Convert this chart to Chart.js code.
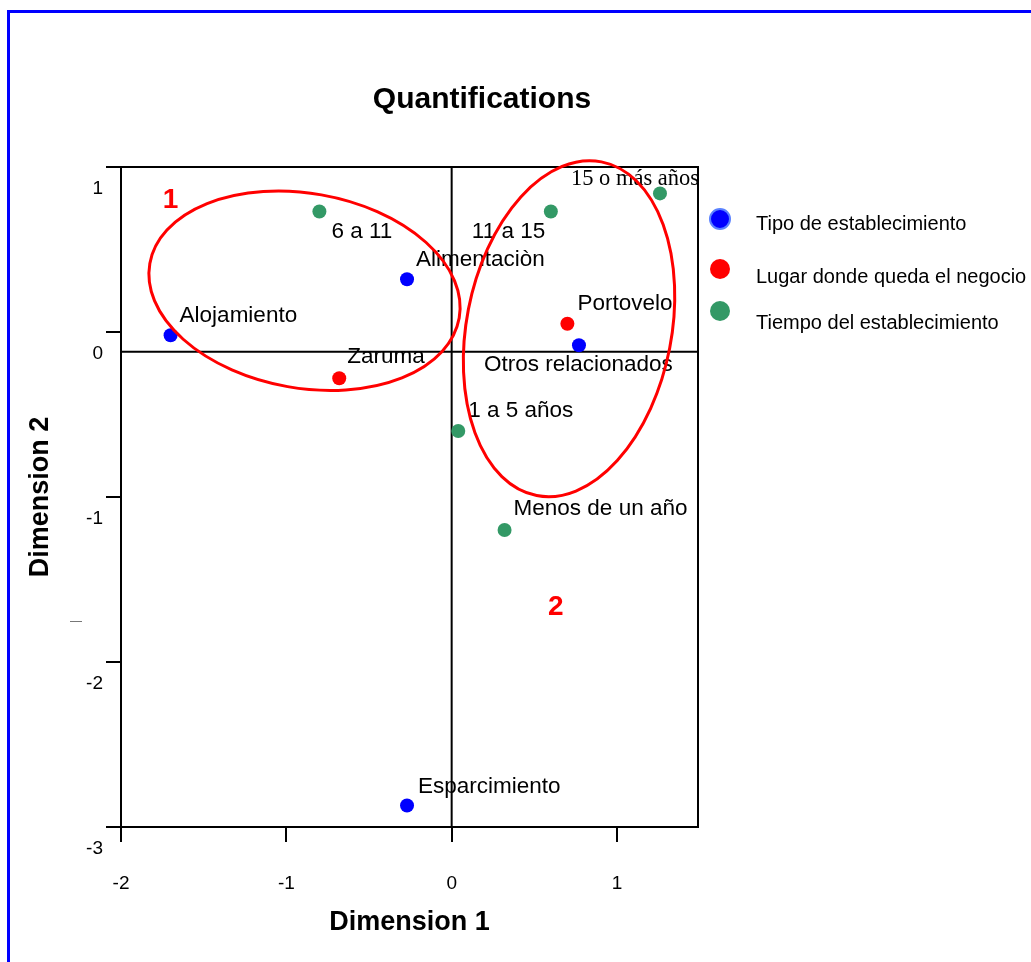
<!DOCTYPE html>
<html lang="es">
<head>
    <meta charset="UTF-8">
    <title>Quantifications</title>
    <script src="https://cdn.jsdelivr.net/npm/chart.js"></script>
    <style>
        body { margin: 0; background: #fff; }
        #frame { position: absolute; left: 7px; top: 10px; width: 1024px; height: 952px;
                 border-top: 3px solid #0000ff; border-left: 3px solid #0000ff; pointer-events: none; }
        canvas { position: absolute; left: 0; top: 0; }
    </style>
</head>
<body>
    <canvas id="quantChart" width="1031" height="962"></canvas>
    <div id="frame"></div>

    <script>
        // Tipo de establecimiento
        const tipoLabels = ['Alojamiento', 'Alimentaciòn', 'Otros relacionados', 'Esparcimiento'];
        const tipoX = [-1.70, -0.27, 0.77, -0.27];
        const tipoY = [0.10, 0.44, 0.04, -2.75];

        // Lugar donde queda el negocio
        const lugarLabels = ['Portovelo', 'Zaruma'];
        const lugarX = [0.70, -0.68];
        const lugarY = [0.17, -0.16];

        // Tiempo del establecimiento
        const tiempoLabels = ['6 a 11', '11 a 15', '15 o más años', '1 a 5 años', 'Menos de un año'];
        const tiempoX = [-0.80, 0.60, 1.26, 0.04, 0.32];
        const tiempoY = [0.85, 0.85, 0.96, -0.48, -1.08];

        const seriesNames = ['Tipo de establecimiento', 'Lugar donde queda el negocio', 'Tiempo del establecimiento'];

        // ejes
        const xTickValues = [-2, -1, 0, 1];
        const yTickValues = [-2.88, -1.88, -0.88, 0.12, 1.12];
        const yTickLabels = ['-3', '-2', '-1', '0', '1'];

        // grupos marcados (centro x, centro y, radio x, radio y en unidades de los ejes)
        const grupoNombres = ['1', '2'];
        const grupoCentroX = [-0.89, 0.71];
        const grupoCentroY = [0.37, 0.14];
        const grupoRadioX = [0.95, 0.62];
        const grupoRadioY = [0.59, 1.03];
        const grupoNombreX = [-1.70, 0.63];
        const grupoNombreY = [0.92, -1.55];

        const SANS = '"Liberation Sans", Arial, sans-serif';
        const SERIF = '"Liberation Serif", "Times New Roman", serif';
        const colores = ['#0000ff', '#ff0000', '#339966'];

        // desplazamiento de cada etiqueta respecto a su punto (px)
        const labelPos = {
            'Alojamiento': [9, -20], 'Alimentaciòn': [9, -19], 'Otros relacionados': [-95, 20],
            'Esparcimiento': [11, -19], 'Portovelo': [10, -20], 'Zaruma': [8, -21],
            '6 a 11': [12, 20], '11 a 15': [-79, 20], '15 o más años': [-89, -14],
            '1 a 5 años': [10, -20], 'Menos de un año': [9, -21]
        };
        const grupoGiro = [10, 11];   // grados

        function toPoints(xs, ys) {
            return xs.map((x, i) => ({ x: x, y: ys[i] }));
        }

        const extras = {
            id: 'extras',
            beforeDatasetsDraw(chart) {
                const { ctx, chartArea: a, scales: { x, y } } = chart;
                ctx.save();
                ctx.strokeStyle = '#000';
                ctx.lineWidth = 2;
                // marco superior y derecho
                ctx.beginPath();
                ctx.moveTo(a.left, a.top); ctx.lineTo(a.right, a.top); ctx.lineTo(a.right, a.bottom);
                ctx.stroke();
                // lineas de cero
                ctx.beginPath();
                ctx.moveTo(x.getPixelForValue(0), a.top); ctx.lineTo(x.getPixelForValue(0), a.bottom);
                ctx.moveTo(a.left, y.getPixelForValue(0)); ctx.lineTo(a.right, y.getPixelForValue(0));
                ctx.stroke();
                ctx.restore();
            },
            afterDatasetsDraw(chart) {
                const { ctx, scales: { x, y } } = chart;
                ctx.save();
                // etiquetas de los puntos
                ctx.fillStyle = '#000';
                ctx.textBaseline = 'middle';
                ctx.textAlign = 'left';
                chart.data.datasets.forEach((ds, di) => {
                    const meta = chart.getDatasetMeta(di);
                    ds.pointNames.forEach((name, i) => {
                        const p = meta.data[i];
                        const off = labelPos[name] || [8, -20];
                        ctx.font = (name === '15 o más años' ? '22.5px ' + SERIF : '22.5px ' + SANS);
                        ctx.fillText(name, p.x + off[0], p.y + off[1]);
                    });
                });
                // elipses
                ctx.strokeStyle = '#ff0000';
                ctx.lineWidth = 3;
                const sx = Math.abs(x.getPixelForValue(1) - x.getPixelForValue(0));
                const sy = Math.abs(y.getPixelForValue(1) - y.getPixelForValue(0));
                grupoNombres.forEach((g, i) => {
                    ctx.beginPath();
                    ctx.ellipse(x.getPixelForValue(grupoCentroX[i]), y.getPixelForValue(grupoCentroY[i]),
                        grupoRadioX[i] * sx, grupoRadioY[i] * sy, grupoGiro[i] * Math.PI / 180, 0, Math.PI * 2);
                    ctx.stroke();
                });
                // numeros de grupo
                ctx.fillStyle = '#ff0000';
                ctx.font = 'bold 28px ' + SANS;
                ctx.textAlign = 'center';
                grupoNombres.forEach((g, i) => {
                    ctx.fillText(g, x.getPixelForValue(grupoNombreX[i]), y.getPixelForValue(grupoNombreY[i]));
                });
                ctx.restore();
            },
            afterDraw(chart) {
                const ctx = chart.ctx;
                ctx.save();
                // titulo
                ctx.fillStyle = '#000';
                ctx.font = 'bold 30px ' + SANS;
                ctx.textAlign = 'center';
                ctx.textBaseline = 'middle';
                ctx.fillText('Quantifications', 482, 100);
                // marca pequeña junto al eje
                ctx.fillStyle = '#777';
                ctx.fillRect(70, 621, 12, 1);
                // leyenda
                const ly = [219, 269, 311];
                const ty = [224, 277, 323];
                ctx.textAlign = 'left';
                ctx.font = '20px ' + SANS;
                seriesNames.forEach((n, i) => {
                    ctx.beginPath();
                    ctx.arc(720, ly[i], 10, 0, Math.PI * 2);
                    ctx.fillStyle = colores[i];
                    ctx.fill();
                    if (i === 0) {
                        ctx.strokeStyle = '#5a82ff';
                        ctx.lineWidth = 2;
                        ctx.stroke();
                    }
                    ctx.fillStyle = '#000';
                    ctx.fillText(n, 756, ty[i]);
                });
                ctx.restore();
            }
        };

        const allNames = [tipoLabels, lugarLabels, tiempoLabels];
        const allPoints = [toPoints(tipoX, tipoY), toPoints(lugarX, lugarY), toPoints(tiempoX, tiempoY)];

        new Chart(document.getElementById('quantChart'), {
            type: 'scatter',
            data: {
                datasets: seriesNames.map((n, i) => ({
                    label: n,
                    data: allPoints[i],
                    pointNames: allNames[i],
                    backgroundColor: colores[i],
                    borderColor: colores[i],
                    pointRadius: 7,
                    borderWidth: 0
                }))
            },
            options: {
                responsive: false,
                animation: false,
                layout: { padding: { left: 10, right: 333, top: 167, bottom: 0 } },
                plugins: {
                    legend: { display: false },
                    tooltip: { enabled: false }
                },
                scales: {
                    x: {
                        type: 'linear',
                        min: -2,
                        max: 1.49,
                        afterBuildTicks: s => { s.ticks = xTickValues.map(v => ({ value: v })); },
                        afterFit: s => { s.height = 135; },
                        grid: { drawOnChartArea: false, drawTicks: true, tickLength: 15, color: '#000', lineWidth: 2 },
                        border: { display: true, color: '#000', width: 2 },
                        ticks: { color: '#000', font: { family: SANS, size: 19 }, padding: 30 },
                        title: { display: true, text: 'Dimension 1', color: '#000',
                                 font: { family: SANS, size: 27, weight: 'bold' }, padding: { bottom: 23 } }
                    },
                    y: {
                        type: 'linear',
                        min: -2.88,
                        max: 1.12,
                        afterBuildTicks: s => { s.ticks = yTickValues.map(v => ({ value: v })); },
                        afterFit: s => { s.width = 111; },
                        grid: { drawOnChartArea: false, drawTicks: true, tickLength: 15, color: '#000', lineWidth: 2 },
                        border: { display: true, color: '#000', width: 2 },
                        ticks: {
                            color: '#000', font: { family: SANS, size: 19 }, padding: 3, labelOffset: 22,
                            callback: (v, i) => yTickLabels[i]
                        },
                        title: { display: true, text: 'Dimension 2', color: '#000',
                                 font: { family: SANS, size: 27, weight: 'bold' }, padding: { top: 14 } }
                    }
                }
            },
            plugins: [extras]
        });
    </script>
</body>
</html>
